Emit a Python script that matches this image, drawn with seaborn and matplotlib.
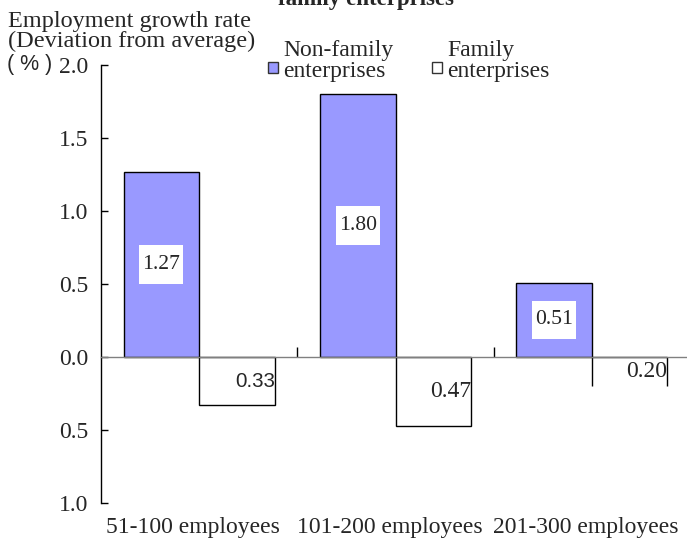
import matplotlib
matplotlib.use("Agg")
import matplotlib.pyplot as plt
from matplotlib.patches import Rectangle
from matplotlib.path import Path
import matplotlib.transforms as mtransforms
import numpy as np
import pandas as pd
import seaborn as sns

# Data
categories = ["51-100 employees", "101-200 employees", "201-300 employees"]
types = ["Non-family enterprises", "Family enterprises"]
nonfamily = [1.27, 1.80, 0.51]
family = [-0.33, -0.47, -0.20]
yticks = [-1.0, -0.5, 0.0, 0.5, 1.0, 1.5, 2.0]

sns.set_style("white")
plt.rcParams["font.family"] = ["Liberation Serif", "DejaVu Serif"]

df = pd.DataFrame({
    "size": categories * 2,
    "type": [types[0]] * 3 + [types[1]] * 3,
    "value": nonfamily + family,
})

fig = plt.figure(figsize=(6.87, 5.49), dpi=100)
ax = fig.add_axes([101 / 687, 46 / 549, 589 / 687, 438 / 549])

sns.barplot(data=df, x="size", y="value", hue="type", hue_order=types,
            order=categories, palette=["#9999FF", "white"], saturation=1,
            width=0.77, edgecolor="black", linewidth=1.0, errorbar=None,
            legend=False, ax=ax)

ax.set_xlim(-0.5, 2.5)
ax.set_ylim(-1.0, 2.0)
ax.set_xlabel("")
ax.set_ylabel("")

# axes styling
for s in ("top", "right"):
    ax.spines[s].set_visible(False)
ax.spines["bottom"].set_position(("data", 0))
ax.spines["bottom"].set_color("#808080")
ax.spines["bottom"].set_linewidth(1.0)
ax.spines["left"].set_color("black")
ax.spines["left"].set_linewidth(1.0)

ax.set_yticks(yticks)
ax.set_yticklabels([f"{abs(v):.1f}" for v in yticks])
ax.tick_params(axis="y", direction="in", length=5, width=1, pad=9,
               labelsize=17, color="black", left=True)
ax.set_xticks([0.5, 1.5])
ax.tick_params(axis="x", direction="in", length=7, width=1, color="black",
               labelbottom=False, bottom=True)


def label_box(x0, y0, width, height, mutation_size):
    """White label box: narrow side padding, taller top/bottom padding."""
    px = 0.14 * mutation_size
    py = 0.45 * mutation_size
    xa, xb = x0 - px, x0 + width + px
    ya, yb = y0 - py, y0 + height + py
    return Path([(xa, ya), (xb, ya), (xb, yb), (xa, yb), (xa, ya)],
                closed=True)


# value labels, non-family: boxed in the middle of each bar
for bar, v in zip(ax.containers[0], nonfamily):
    cx = bar.get_x() + bar.get_width() / 2
    ax.text(cx, v / 2, f"{v:.2f}", ha="center", va="center", fontsize=15.6,
            bbox=dict(boxstyle=label_box, fc="white", ec="none"))

# value labels, family: right-aligned inside each bar
fam_fonts = [["Liberation Sans"], ["Liberation Serif"], ["Liberation Serif"]]
fam_sizes = [14.8, 17, 17]
for bar, v, fam, fs in zip(ax.containers[1], family, fam_fonts, fam_sizes):
    x1 = bar.get_x() + bar.get_width()
    ax.text(x1, v / 2, f"{abs(v):.2f}", ha="right", va="center",
            fontsize=fs, family=fam)

# last family bar is drawn open at the bottom
last = ax.containers[1][-1]
last.set_edgecolor("none")
x0 = last.get_x()
x1 = x0 + last.get_width()
v = family[-1]
ax.plot([x0, x0], [0, v], color="black", lw=1.0, solid_capstyle="butt")
ax.plot([x1, x1], [0, v], color="black", lw=1.0, solid_capstyle="butt")
ax.plot([x0, x1], [0, 0], color="black", lw=1.0, solid_capstyle="butt")

# category labels below the plot
trans = mtransforms.blended_transform_factory(ax.transData, fig.transFigure)
for i, c in enumerate(categories):
    ax.text(i - 0.03, 1 - 527 / 549, c, transform=trans, ha="center",
            va="center", fontsize=17, clip_on=False)

# axis title (top-left)
fig.text(8 / 687, 1 - 11 / 549, "Employment growth rate\n(Deviation from average)",
         ha="left", va="top", fontsize=17.5, linespacing=0.93)
fig.text(7 / 687, 1 - 64 / 549, "( % )", ha="left", va="center",
         fontsize=15.5, family=["Liberation Sans", "DejaVu Sans"])

# chart title (partly outside the top edge)
fig.text(366 / 687, 1 - 5 / 549, "family enterprises", ha="center",
         va="baseline", fontsize=16.5, fontweight="bold")

# legend
legend_items = [("#9999FF", "Non-family\nenterprises", 268),
                ("white", "Family\nenterprises", 432)]
for fc, lab, px in legend_items:
    fig.add_artist(Rectangle((px / 687, 1 - 73 / 549), 10 / 687, 11 / 549,
                             transform=fig.transFigure, fc=fc, ec="#333333",
                             lw=1.0))
    fig.text((px + 15) / 687, 1 - 40 / 549, lab, ha="left", va="top",
             fontsize=17, linespacing=0.99)

fig.savefig("out.png", dpi=100)
